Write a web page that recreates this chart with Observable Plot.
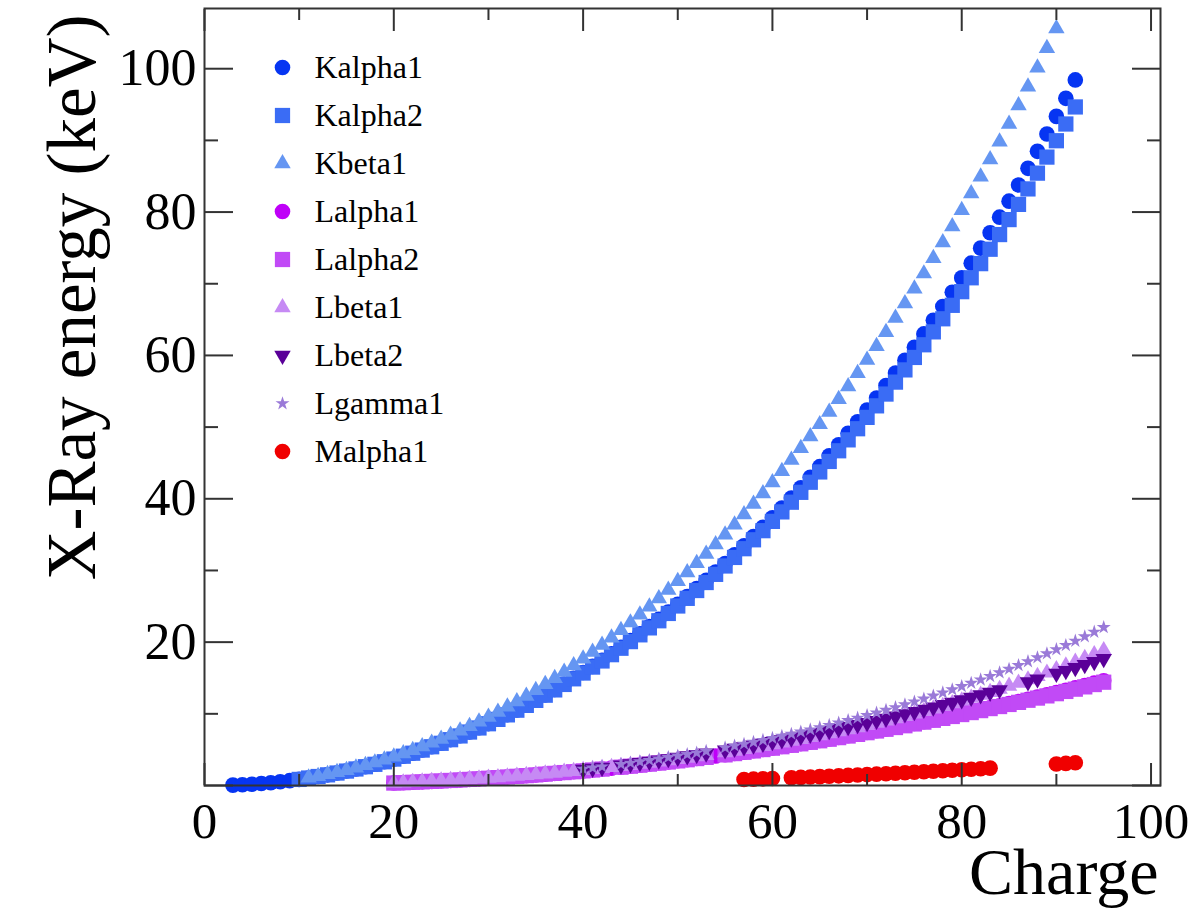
<!DOCTYPE html>
<html>
<head>
<meta charset="utf-8">
<script src="https://cdn.jsdelivr.net/npm/d3@7"></script>
<script src="https://cdn.jsdelivr.net/npm/@observablehq/plot@0.6"></script>
<style>
  html, body { margin: 0; padding: 0; background: white; }
  #wrap { position: relative; width: 1201px; height: 909px; }
  #wrap svg { position: absolute; left: 0; top: 0; }
</style>
</head>
<body>
<div id="wrap"></div>
<script>
// ---- Data: [charge Z, energy keV] ----
const kalpha1 = [[3,0.0543],[4,0.1085],[5,0.1833],[6,0.277],[7,0.3924],[8,0.5249],[9,0.6768],[10,0.8486],[11,1.04098],[12,1.2536],[13,1.4867],[14,1.73998],[15,2.0137],[16,2.30784],[17,2.62239],[18,2.9577],[19,3.3138],[20,3.69168],[21,4.0906],[22,4.51084],[23,4.9522],[24,5.41472],[25,5.89875],[26,6.40384],[27,6.93032],[28,7.47815],[29,8.04778],[30,8.63886],[31,9.25174],[32,9.88642],[33,10.54372],[34,11.2224],[35,11.9242],[36,12.649],[37,13.3953],[38,14.165],[39,14.9584],[40,15.7751],[41,16.6151],[42,17.47934],[43,18.3671],[44,19.2792],[45,20.2161],[46,21.1771],[47,22.16292],[48,23.1736],[49,24.2097],[50,25.2713],[51,26.3591],[52,27.4723],[53,28.612],[54,29.779],[55,30.9728],[56,32.1936],[57,33.4418],[58,34.7197],[59,36.0263],[60,37.361],[61,38.7247],[62,40.1181],[63,41.5422],[64,42.9962],[65,44.4816],[66,45.9984],[67,47.5467],[68,49.1277],[69,50.7416],[70,52.3889],[71,54.0698],[72,55.7902],[73,57.532],[74,59.31824],[75,61.1403],[76,63.0005],[77,64.8956],[78,66.832],[79,68.8037],[80,70.819],[81,72.8715],[82,74.9694],[83,77.1079],[84,79.29],[85,81.52],[86,83.78],[87,86.1],[88,88.47],[89,90.884],[90,93.35],[91,95.868],[92,98.439]];

const kalpha2 = [[10,0.8486],[11,1.04098],[12,1.2536],[13,1.48627],[14,1.73938],[15,2.0127],[16,2.30664],[17,2.62078],[18,2.95563],[19,3.3111],[20,3.68809],[21,4.0861],[22,4.50486],[23,4.94464],[24,5.405509],[25,5.88765],[26,6.39084],[27,6.9153],[28,7.46089],[29,8.02783],[30,8.61578],[31,9.22482],[32,9.85532],[33,10.50799],[34,11.1814],[35,11.8776],[36,12.598],[37,13.3358],[38,14.0979],[39,14.8829],[40,15.6909],[41,16.521],[42,17.3743],[43,18.2508],[44,19.1504],[45,20.0737],[46,21.0201],[47,21.9903],[48,22.9841],[49,24.002],[50,25.044],[51,26.1108],[52,27.2017],[53,28.3172],[54,29.458],[55,30.6251],[56,31.8171],[57,33.0341],[58,34.2789],[59,35.5502],[60,36.8474],[61,38.1712],[62,39.5224],[63,40.9019],[64,42.3089],[65,43.7441],[66,45.2078],[67,46.6997],[68,48.2211],[69,49.7726],[70,51.354],[71,52.965],[72,54.6114],[73,56.277],[74,57.9817],[75,59.7179],[76,61.4867],[77,63.2867],[78,65.112],[79,66.9895],[80,68.895],[81,70.8319],[82,72.8042],[83,74.8148],[84,76.862],[85,78.95],[86,81.07],[87,83.23],[88,85.43],[89,87.67],[90,89.953],[91,92.287],[92,94.665]];

const kbeta1 = [[11,1.0711],[12,1.3022],[13,1.55745],[14,1.83594],[15,2.1391],[16,2.46404],[17,2.8156],[18,3.1905],[19,3.5896],[20,4.0127],[21,4.4605],[22,4.93181],[23,5.42729],[24,5.94671],[25,6.49045],[26,7.05798],[27,7.64943],[28,8.26466],[29,8.90529],[30,9.572],[31,10.2642],[32,10.9821],[33,11.7262],[34,12.4959],[35,13.2914],[36,14.112],[37,14.9613],[38,15.8357],[39,16.7378],[40,17.6678],[41,18.6225],[42,19.6083],[43,20.619],[44,21.6568],[45,22.7236],[46,23.8187],[47,24.9424],[48,26.0955],[49,27.2759],[50,28.486],[51,29.7256],[52,30.9957],[53,32.2947],[54,33.624],[55,34.9869],[56,36.3782],[57,37.801],[58,39.2573],[59,40.7482],[60,42.2713],[61,43.826],[62,45.413],[63,47.0379],[64,48.697],[65,50.382],[66,52.119],[67,53.877],[68,55.681],[69,57.517],[70,59.37],[71,61.283],[72,63.234],[73,65.223],[74,67.2443],[75,69.31],[76,71.413],[77,73.5608],[78,75.748],[79,77.984],[80,80.253],[81,82.576],[82,84.936],[83,87.343],[84,89.8],[85,92.3],[86,94.87],[87,97.47],[88,100.13],[89,102.85],[90,105.609],[91,108.427],[92,111.3]];

const lalpha1 = [[20,0.3413],[21,0.3954],[22,0.4522],[23,0.5113],[24,0.5728],[25,0.6374],[26,0.705],[27,0.7762],[28,0.8515],[29,0.9297],[30,1.0117],[31,1.09792],[32,1.188],[33,1.282],[34,1.3791],[35,1.48043],[36,1.586],[37,1.69413],[38,1.80656],[39,1.92256],[40,2.04236],[41,2.16589],[42,2.29316],[43,2.424],[44,2.55855],[45,2.69674],[46,2.83861],[47,2.98431],[48,3.13373],[49,3.28694],[50,3.44398],[51,3.60472],[52,3.76933],[53,3.93765],[54,4.1099],[55,4.2865],[56,4.46626],[57,4.65097],[58,4.8402],[59,5.0337],[60,5.2304],[61,5.4325],[62,5.6361],[63,5.8457],[64,6.0572],[65,6.2728],[66,6.4952],[67,6.7198],[68,6.9487],[69,7.1799],[70,7.4156],[71,7.6555],[72,7.899],[73,8.1461],[74,8.3976],[75,8.6525],[76,8.9117],[77,9.1751],[78,9.4423],[79,9.7133],[80,9.9888],[81,10.2685],[82,10.5515],[83,10.8388],[84,11.1308],[85,11.4268],[86,11.727],[87,12.0313],[88,12.3397],[89,12.652],[90,12.9687],[91,13.2907],[92,13.6147],[93,13.9441],[94,14.2786],[95,14.6172]];

const lalpha2 = [[20,0.3413],[21,0.3954],[22,0.4522],[23,0.5113],[24,0.5728],[25,0.6374],[26,0.705],[27,0.7762],[28,0.8515],[29,0.9297],[30,1.0117],[31,1.09792],[32,1.188],[33,1.282],[34,1.3791],[35,1.48043],[36,1.586],[37,1.69256],[38,1.80474],[39,1.92047],[40,2.0399],[41,2.163],[42,2.28985],[44,2.55431],[45,2.69205],[46,2.83329],[47,2.97821],[48,3.12691],[49,3.27929],[50,3.43542],[51,3.59532],[52,3.7588],[53,3.92604],[55,4.2722],[56,4.4509],[57,4.63423],[58,4.823],[59,5.0135],[60,5.2077],[61,5.4078],[62,5.609],[63,5.8166],[64,6.025],[65,6.238],[66,6.4577],[67,6.6795],[68,6.905],[69,7.1331],[70,7.3673],[71,7.6049],[72,7.8446],[73,8.0879],[74,8.3352],[75,8.5862],[76,8.841],[77,9.0995],[78,9.3618],[79,9.628],[80,9.8976],[81,10.1728],[82,10.4495],[83,10.73091],[84,11.0158],[85,11.3048],[86,11.5979],[87,11.895],[88,12.1962],[89,12.5008],[90,12.8096],[91,13.1222],[92,13.4388],[93,13.7597],[94,14.0842],[95,14.4119]];

const lbeta1 = [[20,0.3449],[21,0.3996],[22,0.4584],[23,0.5192],[24,0.5828],[25,0.6488],[26,0.7185],[27,0.7914],[28,0.8688],[29,0.9498],[30,1.0347],[31,1.1248],[32,1.2185],[33,1.317],[34,1.41923],[35,1.5259],[36,1.6366],[37,1.75217],[38,1.87172],[39,1.99584],[40,2.1244],[41,2.2574],[42,2.39481],[43,2.538],[44,2.68323],[45,2.83441],[46,2.99022],[47,3.15094],[48,3.31657],[49,3.48721],[50,3.6628],[51,3.84357],[52,4.02958],[53,4.22072],[55,4.6198],[56,4.82753],[57,5.0421],[58,5.2622],[59,5.4889],[60,5.7216],[61,5.961],[62,6.2051],[63,6.4564],[64,6.7132],[65,6.978],[66,7.2477],[67,7.5253],[68,7.8109],[69,8.101],[70,8.4018],[71,8.709],[72,9.0227],[73,9.3431],[74,9.67235],[75,10.01],[76,10.3553],[77,10.7083],[78,11.0707],[79,11.4423],[80,11.8226],[81,12.2133],[82,12.6137],[83,13.0235],[84,13.447],[85,13.876],[86,14.316],[87,14.77],[88,15.2358],[89,15.713],[90,16.2022],[91,16.702],[92,17.22],[93,17.7502],[94,18.2937],[95,18.852]];

const lbeta2 = [[40,2.2194],[41,2.367],[42,2.5183],[44,2.836],[45,3.0013],[46,3.17179],[47,3.34781],[48,3.52812],[49,3.71381],[50,3.90486],[51,4.10078],[52,4.3017],[53,4.5075],[55,4.9359],[56,5.1565],[57,5.3835],[58,5.6134],[59,5.85],[60,6.0894],[61,6.339],[62,6.586],[63,6.8432],[64,7.1028],[65,7.3667],[66,7.6357],[67,7.911],[68,8.189],[69,8.468],[70,8.7588],[71,9.0489],[72,9.3473],[73,9.6518],[74,9.9615],[75,10.2752],[76,10.5985],[77,10.9203],[78,11.2505],[79,11.5847],[80,11.9241],[81,12.2715],[82,12.6226],[83,12.9799],[84,13.3404],[87,14.45],[88,14.8414],[90,15.6237],[91,16.024],[92,16.4283],[93,16.84],[94,17.2553],[95,17.6765]];

const lgamma1 = [[40,2.3027],[41,2.4618],[42,2.6235],[44,2.9645],[45,3.1438],[46,3.3287],[47,3.51959],[48,3.71686],[49,3.92081],[50,4.13112],[51,4.34779],[52,4.5709],[53,4.8009],[55,5.2804],[56,5.5311],[57,5.7885],[58,6.052],[59,6.3221],[60,6.6021],[61,6.892],[62,7.178],[63,7.4803],[64,7.7858],[65,8.102],[66,8.4188],[67,8.747],[68,9.089],[69,9.426],[70,9.7801],[71,10.1434],[72,10.5158],[73,10.8952],[74,11.2859],[75,11.6854],[76,12.0953],[77,12.5126],[78,12.942],[79,13.3817],[80,13.8301],[81,14.2915],[82,14.7644],[83,15.2477],[84,15.744],[85,16.251],[86,16.77],[87,17.303],[88,17.849],[89,18.408],[90,18.9825],[91,19.568],[92,20.1671],[93,20.7848],[94,21.4173],[95,22.0652]];

const malpha1 = [[57,0.833],[58,0.883],[59,0.929],[60,0.978],[62,1.081],[63,1.131],[64,1.185],[65,1.24],[66,1.293],[67,1.348],[68,1.406],[69,1.462],[70,1.5214],[71,1.5813],[72,1.6446],[73,1.71],[74,1.7754],[75,1.8425],[76,1.9102],[77,1.9799],[78,2.0505],[79,2.1229],[80,2.1953],[81,2.2706],[82,2.3455],[83,2.4226],[90,2.9961],[91,3.0823],[92,3.1708]];

const seriesNames = ["Kalpha1","Kalpha2","Kbeta1","Lalpha1","Lalpha2","Lbeta1","Lbeta2","Lgamma1","Malpha1"];
const seriesData = [kalpha1, kalpha2, kbeta1, lalpha1, lalpha2, lbeta1, lbeta2, lgamma1, malpha1];

const xMajorTicks = [0, 20, 40, 60, 80, 100];
const xMinorTicks = [10, 30, 50, 70, 90];
const yMajorTicks = [0, 20, 40, 60, 80, 100];
const yMinorTicks = [10, 30, 50, 70, 90];
const yTickLabels = [20, 40, 60, 80, 100];
const xTitle = "Charge";
const yTitle = "X-Ray energy (keV)";

// ---- Styles ----
const styles = {
  Kalpha1: {symbol: "circle",   color: "#0635f2", r: 7.8, rotate: 0},
  Kalpha2: {symbol: "square",   color: "#3a6cf5", r: 8.6, rotate: 0},
  Kbeta1:  {symbol: "triangle", color: "#6596f2", r: 6.1, rotate: 0},
  Lalpha1: {symbol: "circle",   color: "#bf00f8", r: 7.8, rotate: 0},
  Lalpha2: {symbol: "square",   color: "#c14af6", r: 8.6, rotate: 0},
  Lbeta1:  {symbol: "triangle", color: "#c68af4", r: 6.1, rotate: 0},
  Lbeta2:  {symbol: "triangle", color: "#5a0098", r: 6.1, rotate: 180},
  Lgamma1: {symbol: "star",     color: "#9a7ad8", r: 4.4, rotate: 0},
  Malpha1: {symbol: "circle",   color: "#f00000", r: 7.8, rotate: 0}
};

const xMax = 101, yMax = 108.4;
const font = "'Liberation Serif', 'Times New Roman', serif";
const axisColor = "#333";

const dotMarks = seriesNames.map((name, i) => {
  const s = styles[name];
  return Plot.dot(seriesData[i].filter(d => d[1] <= yMax && d[0] <= xMax), {
    x: d => d[0], y: d => d[1],
    symbol: s.symbol, fill: s.color, r: s.r, rotate: s.rotate, stroke: "none"
  });
});

const tickOpts = {stroke: axisColor, strokeWidth: 2, tickFormat: () => "", label: null};

const main = Plot.plot({
  width: 1201, height: 909,
  marginLeft: 204, marginRight: 41, marginTop: 8, marginBottom: 124,
  style: {fontFamily: font, background: "white", color: "black"},
  x: {domain: [0, xMax]},
  y: {domain: [0, yMax]},
  marks: [
    ...dotMarks,
    Plot.frame({stroke: axisColor, strokeWidth: 2}),
    // inward ticks, all four sides
    Plot.axisX({...tickOpts, anchor: "bottom", ticks: xMajorTicks, tickSize: -22}),
    Plot.axisX({...tickOpts, anchor: "bottom", ticks: xMinorTicks, tickSize: -11}),
    Plot.axisX({...tickOpts, anchor: "top", ticks: xMajorTicks, tickSize: -22}),
    Plot.axisX({...tickOpts, anchor: "top", ticks: xMinorTicks, tickSize: -11}),
    Plot.axisY({...tickOpts, anchor: "left", ticks: yMajorTicks, tickSize: -29}),
    Plot.axisY({...tickOpts, anchor: "left", ticks: yMinorTicks, tickSize: -14}),
    Plot.axisY({...tickOpts, anchor: "right", ticks: yMajorTicks, tickSize: -29}),
    Plot.axisY({...tickOpts, anchor: "right", ticks: yMinorTicks, tickSize: -14}),
    // tick labels
    Plot.axisX({anchor: "bottom", ticks: xMajorTicks, tickSize: 0, tickPadding: 16, fontSize: 51, label: null, tickFormat: d => String(d), fill: "black"}),
    Plot.axisY({anchor: "left", ticks: yTickLabels, tickSize: 0, tickPadding: 8, fontSize: 52, label: null, tickFormat: d => String(d), fill: "black"}),
    // axis titles
    Plot.text([yTitle], {text: d => d, frameAnchor: "top-left", rotate: -90, textAnchor: "end", lineAnchor: "bottom", dx: -110, dy: 6, fontSize: 69, fill: "black"}),
    Plot.text([xTitle], {text: d => d, frameAnchor: "bottom-right", textAnchor: "end", lineAnchor: "bottom", dx: -2, dy: 108, fontSize: 66, fill: "black"})
  ]
});

// ---- Legend (inside the frame, top-left) ----
const legendDots = seriesNames.map(name => {
  const s = styles[name];
  return Plot.dot([name], {y: d => d, frameAnchor: "left", dx: 282, symbol: s.symbol, fill: s.color, r: s.r, rotate: s.rotate, stroke: "none"});
});
const legend = Plot.plot({
  width: 1201, height: 909, margin: 0,
  style: {fontFamily: font, background: "transparent", color: "black"},
  y: {type: "point", domain: seriesNames, range: [67, 451], padding: 0, axis: null},
  marks: [
    ...legendDots,
    Plot.text(seriesNames, {y: d => d, text: d => d, frameAnchor: "left", dx: 314, textAnchor: "start", fontSize: 32, fill: "black", fontFamily: font})
  ]
});
legend.style.pointerEvents = "none";

const wrap = document.getElementById("wrap");
wrap.appendChild(main);
wrap.appendChild(legend);
</script>
</body>
</html>
